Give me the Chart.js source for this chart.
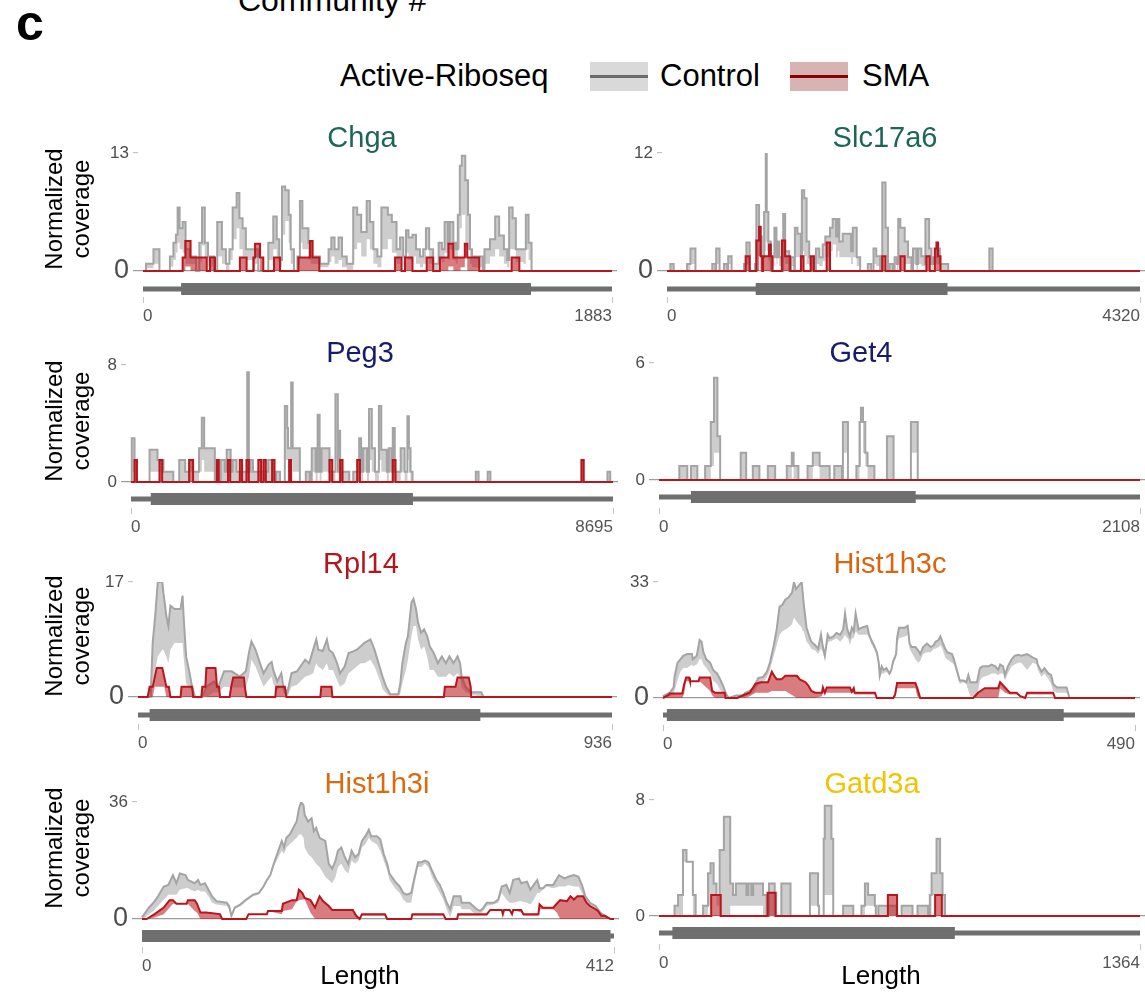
<!DOCTYPE html>
<html>
<head>
<meta charset="utf-8">
<script src="https://cdn.jsdelivr.net/npm/chart.js@4.4.1/dist/chart.umd.min.js"></script>
<style>
  html, body { margin: 0; padding: 0; background: #ffffff; }
  body { position: relative; width: 1145px; height: 995px; overflow: hidden;
         font-family: "Liberation Sans", Arial, Helvetica, sans-serif; color: #000; }
  .txt { position: absolute; white-space: nowrap; }
  canvas { position: absolute; }
  .key { position: absolute; width: 58px; height: 29px; }
  .key span { position: absolute; left: 0; right: 0; top: 13px; height: 3px; }
  .ylab { position: absolute; width: 140px; height: 54px; font-size: 24px; line-height: 27px;
          text-align: center; transform: translate(-50%, -50%) rotate(-90deg); }
  .ttl { position: absolute; font-size: 29px; transform: translate(-50%, -50%); white-space: nowrap; }
</style>
</head>
<body>

<div class="txt" style="left:238px; top:-18px; font-size:32px; line-height:36px;">Community #</div>
<div class="txt" style="left:16px; top:-5px; font-size:50px; line-height:56px; font-weight:bold;">c</div>

<div class="txt" style="left:340px; top:58px; font-size:31px; line-height:36px;">Active-Riboseq</div>
<div class="key" style="left:590px; top:62px; background:#d9d9d9;"><span style="background:#6b6b6b;"></span></div>
<div class="txt" style="left:660px; top:58px; font-size:31px; line-height:36px;">Control</div>
<div class="key" style="left:790px; top:62px; background:#d8b3b3;"><span style="background:#8b0000;"></span></div>
<div class="txt" style="left:862px; top:58px; font-size:31px; line-height:36px;">SMA</div>

<div id="stage"></div>

<script>
// ---- Transcripts shown in the grid ----
const genes = ['Chga', 'Slc17a6', 'Peg3', 'Get4', 'Rpl14', 'Hist1h3c', 'Hist1h3i', 'Gatd3a'];
const transcriptLength = [1883, 4320, 8695, 2108, 936, 490, 412, 1364];
const yTickMax = [13, 12, 8, 6, 17, 33, 36, 8];
// coding region (start, end) in transcript coordinates
const cdsRange = [[153, 1558], [810, 2562], [357, 5086], [140, 1125], [23, 676], [4, 416], [0, 409], [38, 839]];

// ---- Coverage tracks: [position, upper, lower] ----
const chgaControl = [[0,0,0],[12,0.8,0.3],[42,2.4,0.8],[66,0,0],[108,1.6,0.5],[122,3.1,1.2],[132,4.0,2.0],[139,7.0,3.1],[147,4.7,2.4],[159,5.4,2.0],[171,2.4,0.8],[189,1.6,0.8],[213,0,0],[226,3.1,1.0],[237,7.0,2.8],[248,3.1,1.5],[261,1.6,0.5],[285,0,0],[298,5.4,1.6],[317,2.4,0.8],[333,0.8,0],[347,2.4,1.2],[360,7.0,3.5],[376,8.6,4.7],[387,5.8,2.4],[400,4.7,1.6],[413,2.4,1.2],[443,2.4,0.8],[463,0,0],[503,3.1,1.2],[523,6.0,2.4],[537,3.5,1.6],[547,1.2,0.4],[558,9.3,4.0],[571,8.9,5.5],[585,6.2,3.1],[593,2.4,0.8],[606,0,0],[620,1.6,0.8],[630,7.7,3.1],[640,4.7,2.4],[664,3.1,1.2],[673,1.6,0.8],[710,0.8,0.4],[745,2.4,1.0],[756,3.7,1.6],[769,2.4,0.8],[785,3.7,1.2],[799,1.6,0.4],[818,0.8,0],[844,7.0,2.4],[860,6.2,3.1],[876,4.3,1.6],[898,7.7,3.5],[911,5.4,2.4],[925,2.4,0.8],[941,1.6,0.4],[957,7.0,2.4],[983,6.2,3.5],[999,5.4,2.0],[1018,2.4,0.8],[1032,3.7,1.6],[1045,1.6,0.4],[1056,4.5,2.0],[1066,3.7,1.2],[1082,4.0,1.6],[1096,2.4,0.8],[1112,1.6,0.4],[1125,2.4,0.8],[1136,4.7,2.4],[1149,2.4,0.8],[1165,0.8,0],[1187,3.1,1.2],[1200,2.4,1.0],[1211,5.4,2.0],[1224,3.1,1.2],[1232,5.4,2.4],[1246,3.1,1.2],[1256,2.4,0.8],[1264,6.2,2.4],[1272,11.6,4.7],[1280,12.7,6.2],[1294,10.0,3.1],[1305,6.2,2.4],[1313,2.4,0.8],[1321,1.6,0.4],[1364,0,0],[1371,2.4,0.8],[1393,3.5,1.6],[1414,6.0,2.4],[1430,3.9,1.6],[1449,2.4,0.8],[1462,1.2,0.4],[1470,7.0,2.4],[1484,5.8,2.4],[1497,2.4,1.0],[1527,2.4,0.8],[1537,6.2,2.4],[1548,3.1,1.2],[1560,0,0],[1883,0,0]];
const chgaSma = [[0,0,0],[159,1.5,0],[170,3.3,0.5],[191,1.5,0],[256,0,0],[269,1.5,0],[289,0,0],[389,1.5,0],[416,0,0],[443,1.5,0],[450,3.0,1.5],[470,1.5,0],[483,0,0],[526,1.5,0],[550,0,0],[624,1.5,0],[670,3.3,0],[681,1.5,0],[708,0,0],[1012,1.5,0],[1038,0,0],[1052,1.5,0],[1082,0,0],[1139,1.5,0],[1165,0,0],[1192,1.5,0],[1226,3.0,0.5],[1246,1.5,0],[1275,1.5,0.4],[1292,3.0,1.5],[1302,1.5,0],[1350,0,0],[1480,1.5,0],[1511,0,0],[1883,0,0]];

const slc17a6Control = [[0,0,0],[31,0.7,0],[61,0,0],[183,0.7,0],[214,2.3,0.7],[260,0,0],[413,0.7,0],[443,0,0],[449,2.3,0.7],[480,0,0],[520,0.7,0],[550,0,0],[559,1.5,0.7],[590,0,0],[703,0.7,0],[725,2.9,0.7],[755,0,0],[804,0.7,0],[816,6.7,1.5],[841,3.5,1.5],[865,0,0],[871,1.4,0.7],[887,6.0,2.0],[902,12,3.0],[911,6.0,2.0],[926,3.0,1.0],[948,0,0],[963,1.4,0.5],[981,4.4,1.4],[1000,1.4,0.7],[1009,3.0,1.4],[1024,1.4,0.5],[1049,0,0],[1061,5.8,1.4],[1079,2.0,0.7],[1116,0,0],[1131,1.4,0.5],[1162,0,0],[1168,4.4,1.4],[1192,3.8,1.4],[1223,1.4,0],[1232,8.2,2.0],[1253,7.4,1.5],[1275,3.0,0.7],[1299,1.4,0.5],[1330,0,0],[1360,2.3,0.7],[1391,1.4,0.5],[1422,2.7,1.0],[1446,3.5,1.4],[1489,4.4,2.0],[1513,5.3,2.7],[1544,3.5,1.4],[1559,5.3,2.0],[1574,3.0,1.4],[1605,3.8,1.4],[1681,2.0,0.7],[1697,4.4,1.4],[1733,1.4,0.5],[1764,0,0],[1834,0.7,0],[1865,0,0],[1886,2.3,0.7],[1911,1.5,0.5],[1947,0,0],[1966,9.0,1.5],[1996,4.4,1.4],[2018,0,0],[2033,0.7,0],[2063,0,0],[2079,1.4,0.7],[2100,0.7,0],[2112,5.3,1.4],[2131,4.4,1.4],[2171,3.0,0.7],[2201,1.4,0.7],[2232,0,0],[2247,2.3,0.7],[2278,0.7,0],[2293,2.3,0.7],[2323,1.5,0.5],[2354,0.7,0],[2360,5.3,1.5],[2394,2.3,0.7],[2415,0.7,0],[2430,1.4,0.7],[2461,2.3,0.7],[2492,0.7,0],[2568,0,0],[2944,2.3,0],[2974,0,0],[4320,0,0]];
const slc17a6Sma = [[0,0,0],[718,1.5,0],[755,0,0],[816,3.1,0],[841,4.5,1.5],[856,1.5,0],[871,0,0],[877,1.5,0],[932,2.7,0],[948,1.5,0],[963,0,0],[1049,3.1,0],[1079,1.5,0],[1125,0,0],[1223,1.5,0],[1247,0,0],[1312,1.5,0],[1342,0,0],[1458,2.9,0],[1489,0,0],[1966,1.5,0],[1996,0,0],[2131,1.5,0],[2171,0,0],[2369,1.5,0],[2400,0,0],[2446,2.3,0],[2461,2.9,0],[2476,1.5,0],[2498,0,0],[4320,0,0]];

const peg3Control = [[0,0,0],[14,3.0,0.7],[64,0,0],[335,2.2,0.7],[478,1.5,0.7],[585,0.7,0],[763,0,0],[870,1.5,0],[977,0.7,0],[1049,1.5,0.7],[1120,0.7,0],[1227,2.3,0.7],[1277,4.4,1.5],[1320,2.3,0.7],[1512,0,0],[1619,1.5,0],[1691,0.7,0],[1726,2.2,0.7],[1798,0.7,0],[1833,1.5,0],[1904,0.7,0],[2097,7.5,0.7],[2126,0.7,0],[2154,1.5,0],[2200,0.7,0],[2475,1.5,0],[2546,0,0],[2618,0.7,0],[2689,0,0],[2775,5.2,1.5],[2818,3.7,1.5],[2832,2.3,0.7],[2889,6.8,1.5],[2917,2.3,0.7],[3046,0,0],[3153,0.7,0],[3224,0,0],[3260,2.3,0.7],[3331,0.7,0],[3367,4.6,0.7],[3402,0.7,0],[3438,2.3,0.7],[3581,0.7,0],[3688,6.0,1.5],[3731,0.7,0],[3745,3.5,0.7],[3773,0.7,0],[3937,0,0],[4009,0.7,0],[4116,3.0,0.7],[4151,0.7,0],[4187,2.3,0.7],[4258,0.7,0],[4294,5.0,1.5],[4344,2.3,0.7],[4401,0.7,0],[4472,5.2,1.5],[4515,2.2,0.7],[4615,0.7,0],[4651,2.3,0.7],[4701,0.7,0],[4722,3.7,0.7],[4758,0.7,0],[4865,2.3,0.7],[4936,0.7,0],[4986,4.5,1.5],[5014,2.3,0.7],[5043,0.7,0],[5079,0,0],[6220,0.7,0],[6270,0,0],[6434,0.7,0],[6484,0,0],[8595,0.7,0],[8645,0,0],[8695,0,0]];
const peg3Sma = [[0,0,0],[64,1.5,0],[107,0,0],[514,1.5,0],[564,0,0],[1049,1.5,0],[1120,0,0],[1548,1.5,0],[1584,0,0],[1748,1.5,0],[1790,0,0],[1962,1.5,0],[2004,0,0],[2083,1.5,0],[2126,0,0],[2297,1.5,0],[2347,0,0],[2390,1.5,0],[2432,0,0],[2546,1.5,0],[2589,0,0],[2853,1.5,0],[2889,0,0],[3581,1.5,0],[3631,0,0],[3773,1.5,0],[3816,0,0],[4080,1.5,0],[4130,0,0],[4722,1.5,0],[4772,0,0],[8125,1.5,0],[8167,0,0],[8695,0,0]];

const get4Control = [[0,0,0],[89,0.72,0],[124,0,0],[140,0.72,0],[168,0,0],[202,0.72,0],[227,2.98,0.72],[241,5.25,1.4],[256,2.25,1.4],[268,0,0],[358,1.4,0],[382,0,0],[411,0.72,0],[440,0,0],[477,0.72,0],[509,0,0],[560,0.72,0],[582,1.4,0.72],[590,0.72,0],[611,0,0],[651,0.72,0],[674,1.4,0.72],[704,0.72,0],[748,0,0],[768,0.72,0],[802,0,0],[806,2.98,1.4],[828,0,0],[865,0.72,0],[879,2.98,0.72],[885,3.7,2.98],[894,2.98,1.4],[904,1.4,0.72],[914,0.72,0],[944,0,0],[999,2.25,0],[1028,0,0],[1104,2.98,1.4],[1134,0,0],[2108,0,0]];
const get4Sma = [[0,0,0],[2108,0,0]];

const rpl14Control = [[0,0,0],[25,0,0],[29,8,2],[34,12,4],[39,17,6],[48,17,7],[50,15.5,7],[56,12,6],[60,10.5,5],[64,13.5,7],[72,13,8],[84,13,8],[88,15,8],[90,12,6],[95,6,2],[102,3.5,1.4],[107,1.4,0.7],[113,0,0],[127,0,0],[135,1.5,0],[150,2.3,0.7],[158,1.4,0.7],[170,3.8,1.5],[185,3.8,1.4],[201,3.0,1.4],[213,3.8,1.4],[219,6.5,3.0],[224,8.2,5.5],[232,7.0,4.5],[240,5.2,3.0],[248,3.5,1.5],[258,4.8,2.5],[264,5.2,3.0],[267,4.0,2.0],[275,2.3,1.0],[283,3.5,1.5],[287,1.5,0.7],[295,0.7,0],[303,3.5,1.5],[314,3.8,1.8],[330,5.5,3.0],[338,5.0,3.2],[346,7.0,3.5],[352,8.5,5.0],[356,7.0,4.5],[365,6.8,4.0],[373,8.5,5.0],[377,7.0,4.0],[385,6.5,4.0],[393,5.0,2.5],[399,3.5,1.5],[408,4.5,2.0],[416,6.5,3.5],[424,6.7,4.0],[432,7.0,4.5],[440,7.5,5.0],[447,8.0,5.0],[459,8.5,5.5],[467,7.0,4.5],[475,5.0,3.0],[483,3.0,1.2],[490,1.5,0.5],[498,0.4,0],[514,0.4,0],[518,2.0,0.5],[522,5.0,2.0],[529,8.0,4.0],[533,9.0,5.5],[540,14.0,9.0],[544,14.5,10.5],[549,13.0,10.5],[553,11.0,8.5],[559,9.5,7.0],[565,10.0,7.5],[571,9.0,6.0],[576,7.5,4.0],[584,6.5,4.0],[592,5.0,3.0],[600,6.0,3.0],[608,5.0,3.0],[615,6.0,3.5],[623,5.0,3.0],[631,6.0,3.5],[636,5.0,3.0],[639,3.0,1.4],[647,1.5,0.7],[658,0.7,0.4],[678,0.7,0],[682,0,0],[936,0,0]];
const rpl14Sma = [[0,0,0],[19,0,0],[23,1.5,0],[29,1.5,0],[33,2.9,1.5],[37,4.3,1.5],[48,4.3,1.5],[52,2.9,1.5],[56,1.5,0],[61,1.5,0],[64,0,0],[84,0,0],[86,1.5,0],[107,1.5,0],[109,0,0],[125,0,0],[127,1.5,0],[133,1.5,0],[135,4.3,0],[153,4.3,0],[156,1.5,0],[160,1.5,0],[162,0,0],[181,0,0],[184,1.5,0],[188,2.9,0],[209,2.9,0],[211,1.5,0],[214,0,0],[271,0,0],[273,1.5,0],[290,1.5,0],[293,0,0],[360,0,0],[362,1.5,0],[382,1.5,0],[384,0,0],[604,0,0],[606,1.5,0],[627,1.5,0],[631,2.9,0],[653,2.9,0],[657,1.5,0],[658,0,0],[936,0,0]];

const hist1h3cControl = [[0,0.5,0],[7,1.5,0.5],[11,3,1],[12,6,2],[15,10,5],[18,11,7.5],[21,12,8.5],[25,12.5,8.5],[30,12.5,9.5],[31,11,9],[35,12,9.5],[38,16.5,11],[40,16,11],[42,13,9.5],[45,11,8.5],[49,10,7],[52,8,5],[56,7,4],[59,5.5,2.5],[63,3,1],[65,1.5,0.5],[68,0,0],[76,0.7,0],[83,0.7,0],[85,1.4,0.5],[90,2,1],[94,3,1.5],[99,5.7,3.5],[104,6,4.5],[108,7.5,6],[111,10,8],[115,15,12],[118,19.5,15],[121,26,18],[124,26.5,19],[127,28,19.5],[130,28.5,20],[134,30,21],[136,33,23],[138,31,22],[141,32,21],[144,33,20],[145,30,19],[146,27,19],[149,20,16],[152,17.5,15],[154,16,14],[158,15,13.5],[161,14,12.5],[164,18,14],[166,14.5,13],[168,12,11],[171,18,16],[173,17,16],[177,17.5,16.5],[180,18.5,17],[184,18,16],[187,19.5,17],[189,24,18],[191,20,17],[192,19,17],[194,17.5,15],[196,20,17],[198,19,17],[200,24,19],[203,19.5,18],[206,20,18],[212,20.5,18],[214,18,17],[217,16,15],[219,15,14],[222,13,12],[224,10,8],[225,6.5,5.5],[227,9,7],[229,8,7],[232,8.5,7.5],[235,7,6.5],[237,8,7],[239,10.5,9.5],[242,12.5,11.5],[243,17,15],[245,20,17],[251,20,17.5],[254,20.5,18],[256,15.5,14],[258,14.5,13],[262,14.5,11],[265,13.5,10],[267,12.5,10.5],[270,14.5,12.5],[274,15.5,13],[278,14.5,13],[281,15,14],[283,16,14],[286,16.5,14.5],[288,17.5,15],[290,16,14],[293,14,11.5],[295,13,11],[300,12.5,10],[302,11,9.5],[305,8,7],[308,5,4],[312,5,4.5],[315,4.5,4],[317,6.5,2],[319,4.5,0.5],[326,4.5,0.3],[329,8.5,5],[332,9,6],[338,9,6.5],[341,9.5,7],[345,9,7],[348,8,6.5],[350,9.5,7],[353,9,7],[355,6.5,5],[358,9,7],[362,11,9],[365,12,9.5],[369,12.3,10],[372,12,10],[378,12.5,8],[381,12,9],[384,11.5,10],[388,11,9.5],[389,9.5,8],[393,7.5,6],[396,8.5,7],[400,7,5.5],[403,6.5,4],[405,4,2],[409,3,1.5],[419,3,1.5],[422,0,0],[490,0,0]];
const hist1h3cSma = [[0,0,0],[6,0.9,0],[7,1.3,0],[20,1.3,0],[22,4,1.3],[24,5.8,4.8],[27,5.8,4.8],[28,4.8,4.8],[37,4.8,4.8],[38,5.8,4.8],[49,5.8,2],[51,2,0.8],[54,1.5,0],[64,1.5,0],[65,0,0],[77,0,0],[85,1.0,0],[90,1.5,0.5],[96,4,1.5],[101,4.5,1.5],[109,4.5,1.5],[113,7.5,2],[115,6.5,2],[118,5.3,2],[123,5.3,2],[127,6.3,2],[139,6.3,0],[142,5.3,0],[148,4.5,0],[151,3.5,0],[154,2,0],[158,1.5,0],[165,1.5,0.5],[166,3,1.5],[168,1.5,1.5],[170,3,1.5],[194,3,1.5],[196,1.8,1.5],[198,2.8,1.5],[199,1.5,1],[220,1.5,1],[222,0,0],[239,0,0],[241,1,0],[243,4.3,2.8],[262,4.3,2.8],[264,2.8,0.5],[267,0,0],[322,0,0],[327,1.5,0],[334,2.8,0],[348,2.8,0],[350,4.5,2.8],[355,3,1.5],[360,1.5,1],[367,1.5,1],[371,0.5,0.3],[376,0,0],[378,1.5,1],[405,1.5,1],[407,0,0],[490,0,0]];

const hist1h3iControl = [[0,0.5,0],[3,2,0.5],[6,3.5,1.5],[10,5,2.5],[14,7,4],[19,10,6],[23,10.5,7.5],[27,13.5,7.5],[30,11,7.5],[33,14,9],[38,13.5,9.5],[40,12,9.5],[46,11,8.5],[49,12,9],[51,10.5,8.5],[55,11,8.5],[58,9,7],[61,7,5],[65,5.5,4.5],[74,5,4],[76,4,3],[78,1,0.5],[81,3.5,3],[86,4.5,4],[91,6,5.5],[97,7.5,7],[102,8,7.5],[106,10,9.5],[109,12,11.5],[112,13.5,13],[115,17,16],[119,21,19],[122,24,21],[124,22,20],[126,25,22],[129,26,23],[132,28,24],[135,30,25],[137,34,26],[139,36,26],[141,35,25],[142,32,22],[145,30,20],[148,31,19],[150,27,18],[152,28,17],[155,25,16],[160,24,13],[163,17,12],[166,15.5,11],[169,18,13],[171,21,16],[174,22,17],[177,19,15],[180,17,14],[183,21,18],[186,19,17],[189,20,18],[192,24,22],[195,25.5,23],[198,27.5,25],[200,25.5,24],[205,25.5,23],[208,24.5,21],[211,20,18],[214,17,15],[216,14,12],[221,11.5,9.5],[225,10,8],[228,8,6],[231,7.5,5],[235,8,5],[238,13,11],[241,17.5,16],[244,17.5,16],[247,18,17],[250,17.5,16],[253,15,13],[257,12,10],[260,10.5,8],[263,8,6],[266,5,3],[269,3,0.5],[272,7,4],[278,7,4],[279,5,3],[286,5,3],[289,4,2],[292,3,1.5],[295,2.5,1.5],[298,3.5,2.5],[301,5,4],[307,5,4.5],[311,6,5],[314,10,8],[318,10.5,6],[321,8,5],[324,12,5],[329,12.5,5.5],[331,11,5.5],[336,11.5,5],[339,9,4.5],[342,10.5,6],[345,12,8],[347,9.5,8],[350,9.5,9],[353,10.5,10],[359,10.5,9.5],[364,13.5,10],[366,13,10],[369,12.5,10],[372,13,10.5],[377,13.5,10],[381,13,10],[384,10.5,8],[387,7,6],[391,5,4],[396,4,3],[400,2,1],[404,1,0.5],[409,0,0],[412,0,0]];
const hist1h3iSma = [[0,0,0],[4,0,0],[11,1.5,0.5],[19,3.5,1.5],[24,5.8,3.5],[27,5.8,4.7],[30,4.7,4.7],[39,4.7,4.7],[40,5.8,4.7],[46,5.8,2.5],[48,4.7,2.0],[51,2,0],[56,2,0],[68,1.5,0],[70,0,0],[91,0,0],[93,1.5,1.5],[109,1.5,1.5],[110,2.5,2.5],[122,2.5,1.5],[123,4.7,2.5],[131,5.8,3],[135,5.8,5.5],[137,9,5.8],[140,8,6],[142,6.5,6],[147,5.8,2],[151,3.5,0],[155,7,0],[158,5.5,0],[163,4,0],[166,2.8,0],[184,2.8,0],[187,1,0],[190,0,0],[192,1.5,1],[212,1.5,1],[214,0,0],[235,0,0],[236,1.5,1],[263,1.5,1],[265,0,0],[275,0,0],[276,1.5,1],[301,1.5,1],[304,2.8,2.8],[314,2.8,2.8],[315,1.5,1.5],[316,2.8,2.8],[321,2.8,2.8],[323,1.5,1.5],[324,2.8,2.8],[331,2.8,2],[333,1.5,1],[346,1.5,1],[347,4.5,3],[350,3.5,3],[359,3.5,3],[362,4.7,2],[365,5.8,0],[371,5.5,0],[374,7,0],[377,6,0],[380,7,0],[385,7,0],[388,5,0],[391,4,0],[396,3,0],[398,2.5,0],[401,1,0],[404,1,0],[409,0,0],[412,0,0]];

const gatd3aControl = [[0,0,0],[44,0.7,0],[54,1.45,0],[68,4.55,3.75],[78,3.75,3.75],[96,1.45,0],[104,0,0],[125,0.7,0],[139,2.94,0.7],[146,3.63,1.45],[155,2.25,1.45],[163,1.45,0.7],[172,4.55,0],[184,6.85,0],[202,2.25,0.7],[210,1.45,0.7],[218,2.25,0.7],[248,1.45,0.7],[253,2.25,0.7],[262,1.45,0.7],[267,2.25,0.7],[295,1.45,0],[305,0,0],[312,2.25,0],[328,0,0],[347,2.25,0],[373,0,0],[428,2.94,0.7],[451,0.7,0],[454,0,0],[467,5.33,1.45],[470,7.6,1.45],[489,5.33,1.45],[494,0,0],[522,0.7,0],[551,0,0],[574,0.7,0],[584,2.25,0.7],[593,1.45,0.7],[612,0.7,0],[615,0,0],[622,0.7,0],[674,0,0],[688,0.7,0],[719,0,0],[733,0.7,0],[763,0,0],[768,1.45,0],[773,2.94,1.45],[787,5.33,1.45],[797,2.94,1.45],[804,1.45,0],[811,0,0],[1364,0,0]];
const gatd3aSma = [[0,0,0],[148,1.45,0],[175,0,0],[308,1.6,0],[331,0,0],[649,1.45,0],[675,0,0],[783,1.45,0],[802,0,0],[1364,0,0]];

const controlTracks = [chgaControl, slc17a6Control, peg3Control, get4Control, rpl14Control, hist1h3cControl, hist1h3iControl, gatd3aControl];
const smaTracks = [chgaSma, slc17a6Sma, peg3Sma, get4Sma, rpl14Sma, hist1h3cSma, hist1h3iSma, gatd3aSma];

// ---- Panel geometry and styling (page pixels) ----
const panelLayout = [
  { x0: 143, x1: 612, top: 153, base: 271, gene: 289, bottom: 297, tx: 362, ty: 137, color: '#1d6656', bigZero: true,  stepped: true },
  { x0: 667, x1: 1140, top: 153, base: 271, gene: 289, bottom: 297, tx: 885, ty: 137, color: '#1d6656', bigZero: true,  stepped: true },
  { x0: 131, x1: 613, top: 365, base: 482, gene: 499, bottom: 508, tx: 360, ty: 352, color: '#171b6c', bigZero: false, stepped: true },
  { x0: 659, x1: 1140, top: 363, base: 480, gene: 497, bottom: 508, tx: 861, ty: 352, color: '#171b6c', bigZero: false, stepped: true },
  { x0: 138, x1: 612, top: 582, base: 697, gene: 715, bottom: 724, tx: 361, ty: 563, color: '#b3161c', bigZero: true,  stepped: false },
  { x0: 663, x1: 1135, top: 582, base: 698, gene: 715, bottom: 725, tx: 890, ty: 563, color: '#d9650e', bigZero: true,  stepped: false },
  { x0: 142, x1: 614, top: 802, base: 919, gene: 936, bottom: 947, tx: 377, ty: 783, color: '#dc6a10', bigZero: true,  stepped: false },
  { x0: 659, x1: 1140, top: 800, base: 916, gene: 933, bottom: 944, tx: 872, ty: 783, color: '#f2c300', bigZero: false, stepped: true }
];

const FONT = "'Liberation Sans', Arial, Helvetica, sans-serif";
Chart.defaults.font.family = FONT;

const CTRL_LINE = '#a4a4a4', CTRL_FILL = '#cdcdcd';
const SMA_LINE = '#b8151c', SMA_FILL = 'rgba(190, 30, 36, 0.58)';
const GENE = '#6f6f6f';

const stage = document.getElementById('stage');

function track(rows, col) { return rows.map(r => ({ x: r[0], y: r[col] })); }

// Axis titles shared by each row
[209, 421, 636, 848].forEach(cy => {
  const d = document.createElement('div');
  d.className = 'ylab';
  d.style.left = '67px';
  d.style.top = cy + 'px';
  d.innerHTML = 'Normalized<br>coverage';
  document.body.appendChild(d);
});
[[360, 'Length'], [881, 'Length']].forEach(([cx, t]) => {
  const d = document.createElement('div');
  d.className = 'txt';
  d.style.cssText = 'left:' + (cx - 40) + 'px; width:80px; text-align:center; top:960px; font-size:26px; line-height:30px;';
  d.textContent = t;
  document.body.appendChild(d);
});

genes.forEach((gene, i) => {
  const g = panelLayout[i];
  const L = transcriptLength[i];
  const ymax = yTickMax[i];
  const e = 5;                                   // panel expansion beyond 0 and the transcript end
  const ntPerPx = L / (g.x1 - g.x0);
  const unit = ymax / (g.base - g.top);
  const yMin = -(g.bottom - g.base) * unit;
  const geneY = -(g.gene - g.base) * unit;

  const yw = g.x0 < 400 ? 80 : 58;
  const pr = Math.max(0, Math.min(25, 1145 - (g.x1 + e)));
  const padTop = 16, xh = 32;

  const cv = document.createElement('canvas');
  const w = yw + (g.x1 - g.x0 + 2 * e) + pr;
  const h = padTop + (g.bottom - g.top) + xh;
  cv.width = w; cv.height = h;
  cv.style.width = w + 'px'; cv.style.height = h + 'px';
  cv.style.left = (g.x0 - e - yw) + 'px';
  cv.style.top = (g.top - padTop) + 'px';
  stage.appendChild(cv);

  const title = document.createElement('div');
  title.className = 'ttl';
  title.style.left = g.tx + 'px';
  title.style.top = g.ty + 'px';
  title.style.color = g.color;
  title.textContent = gene;
  document.body.appendChild(title);

  const ctrl = controlTracks[i], sma = smaTracks[i];
  const cds = cdsRange[i];
  const common = { pointRadius: 0, pointHoverRadius: 0, tension: 0, stepped: g.stepped };

  new Chart(cv, {
    type: 'line',
    data: {
      datasets: [
        Object.assign({ label: 'SMA', data: track(sma, 1), borderColor: SMA_LINE, borderWidth: 2,
          backgroundColor: SMA_FILL, fill: '+1' }, common),
        Object.assign({ label: 'SMA low', data: track(sma, 2), borderColor: 'rgba(0,0,0,0)', borderWidth: 0,
          fill: false }, common),
        Object.assign({ label: 'Control', data: track(ctrl, 1), borderColor: CTRL_LINE, borderWidth: 2,
          backgroundColor: CTRL_FILL, fill: '+1' }, common),
        Object.assign({ label: 'Control low', data: track(ctrl, 2), borderColor: 'rgba(0,0,0,0)', borderWidth: 0,
          fill: false }, common),
        { label: 'transcript', data: [{ x: 0, y: geneY }, { x: L, y: geneY }], borderColor: GENE,
          borderWidth: 5, borderCapStyle: 'butt', pointRadius: 0, fill: false },
        { label: 'CDS', data: [{ x: cds[0], y: geneY }, { x: cds[1], y: geneY }], borderColor: GENE,
          borderWidth: 12, borderCapStyle: 'butt', pointRadius: 0, fill: false }
      ]
    },
    options: {
      responsive: false,
      animation: false,
      devicePixelRatio: 1,
      events: [],
      layout: { padding: { top: padTop, right: pr, left: 0, bottom: 0 } },
      plugins: { legend: { display: false }, tooltip: { enabled: false }, title: { display: false } },
      scales: {
        x: {
          type: 'linear',
          min: -e * ntPerPx,
          max: L + e * ntPerPx,
          afterBuildTicks: s => { s.ticks = [{ value: 0 }, { value: L }]; },
          afterFit: s => { s.height = xh; },
          border: { display: false },
          grid: { drawOnChartArea: false, drawTicks: true, tickLength: 6, tickColor: '#c4c4c4', lineWidth: 1 },
          ticks: { autoSkip: false, maxRotation: 0, align: 'inner', padding: 3, color: '#555555',
                   font: { size: 17, family: FONT }, callback: v => String(v) }
        },
        y: {
          type: 'linear',
          min: yMin,
          max: ymax,
          afterBuildTicks: s => { s.ticks = [{ value: 0 }, { value: ymax }]; },
          afterFit: s => { s.width = yw; },
          border: { display: false },
          grid: {
            drawOnChartArea: true, drawTicks: true, tickLength: 5, lineWidth: 1.2,
            color: c => (c.tick && c.tick.value === 0) ? '#9c9c9c' : 'rgba(0,0,0,0)',
            tickColor: c => (c.tick && c.tick.value === 0) ? '#9c9c9c' : '#c4c4c4'
          },
          ticks: {
            padding: 4, color: '#4d4d4d',
            font: c => ({ size: (g.bigZero && c.tick && c.tick.value === 0) ? 27 : 17, family: FONT }),
            callback: v => String(v)
          }
        }
      }
    }
  });
});
</script>
</body>
</html>
